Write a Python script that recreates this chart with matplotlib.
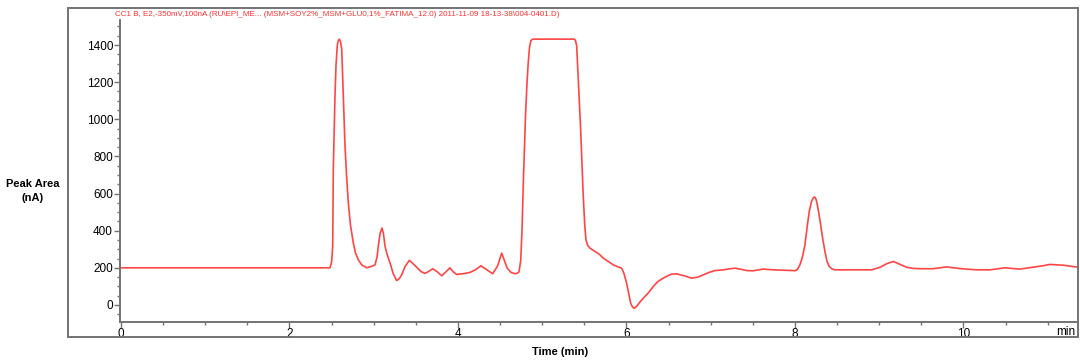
import matplotlib
matplotlib.use("Agg")
import matplotlib.pyplot as plt
from matplotlib.patches import Rectangle
from matplotlib.ticker import MultipleLocator

plt.rcParams['font.family'] = ['Liberation Sans', 'DejaVu Sans']

# chromatogram trace (time in min, signal in nA)
time_min = [0.0, 2.48, 2.50, 2.513, 2.52, 2.54, 2.552, 2.567, 2.576, 2.591, 2.605, 2.62,
            2.639, 2.659, 2.677, 2.698, 2.724, 2.757, 2.783, 2.817, 2.857, 2.916, 2.976,
            3.015, 3.04, 3.054, 3.075, 3.098, 3.115, 3.134, 3.16, 3.193, 3.23, 3.272,
            3.30, 3.332, 3.37, 3.422, 3.46, 3.51, 3.56, 3.608, 3.65, 3.70, 3.75, 3.807,
            3.85, 3.905, 3.94, 3.985, 4.06, 4.142, 4.21, 4.273, 4.34, 4.412, 4.47, 4.519,
            4.55, 4.585, 4.63, 4.677, 4.70, 4.724, 4.745, 4.76, 4.775, 4.79, 4.803, 4.82,
            4.834, 4.85, 4.866, 4.89, 5.38, 5.395, 5.409, 5.428, 5.456, 5.487, 5.505,
            5.519, 5.54, 5.567, 5.62, 5.68, 5.725, 5.78, 5.843, 5.90, 5.943, 5.97, 6.002,
            6.03, 6.05, 6.07, 6.093, 6.12, 6.15, 6.199, 6.26, 6.318, 6.37, 6.418, 6.48,
            6.536, 6.60, 6.70, 6.774, 6.85, 6.912, 6.98, 7.05, 7.149, 7.22, 7.288, 7.36,
            7.427, 7.505, 7.624, 7.742, 7.86, 7.98, 8.0, 8.03, 8.059, 8.09, 8.119, 8.145,
            8.17, 8.195, 8.217, 8.234, 8.25, 8.265, 8.285, 8.305, 8.33, 8.356, 8.38,
            8.407, 8.44, 8.475, 8.91, 9.009, 9.09, 9.167, 9.25, 9.326, 9.40, 9.484, 9.641,
            9.72, 9.8, 9.88, 9.958, 10.157, 10.314, 10.40, 10.493, 10.67, 10.828, 10.93,
            11.027, 11.185, 11.363]
signal_na = [200, 200, 230, 316, 730, 1126, 1290, 1396, 1420, 1432, 1420, 1378,
             1126, 856, 700, 551, 430, 335, 280, 243, 216, 200, 208,
             216, 260, 316, 385, 414, 385, 316, 270, 227, 170, 131,
             140, 162, 205, 240, 225, 203, 180, 170, 180, 195, 180, 157,
             175, 200, 180, 164, 168, 175, 190, 211, 190, 168, 210, 279,
             240, 198, 175, 168, 170, 178, 240, 400, 650, 860, 1036, 1200,
             1306, 1390, 1425, 1432, 1432, 1425, 1396, 1216, 946, 586, 430,
             351, 320, 306, 290, 272, 252, 235, 216, 205, 198, 170, 117,
             55, 9, -10, -18, -8, 10, 36, 65, 99, 125, 139, 155,
             166, 167, 155, 144, 150, 162, 175, 185, 189, 194, 198, 192,
             185, 184, 193, 189, 187, 185, 184, 192, 216, 260, 324, 420,
             504, 555, 577, 582, 570, 541, 490, 432, 355, 288, 235,
             207, 194, 189, 189, 203, 222, 234, 218, 203, 197, 195, 195,
             200, 205, 200, 196, 189, 189, 194, 200, 193, 203, 210,
             218, 214, 203]

title = ("CC1 B, E2,-350mV,100nA (RU\\EPI_ME... (MSM+SOY2%_MSM+GLU0,1%_FATIMA_12.0) "
         "2011-11-09 18-13-38\\004-0401.D)")

W, H = 1080, 363
fig = plt.figure(figsize=(W / 100, H / 100), dpi=100)
ax = fig.add_axes([120 / W, 1 - 322 / H, (1078 - 120) / W, (322 - 20) / H])

gray = '#737373'
ax.plot(time_min, signal_na, color='#ff4545', lw=1.2)

ax.set_xlim(-0.012, 11.36)
ax.set_ylim(-92, 1535)
ax.xaxis.set_major_locator(MultipleLocator(2))
ax.xaxis.set_minor_locator(MultipleLocator(0.5))
ax.yaxis.set_major_locator(MultipleLocator(200))
ax.yaxis.set_minor_locator(MultipleLocator(50))

for s in ['top', 'right']:
    ax.spines[s].set_visible(False)
for s in ['left', 'bottom']:
    ax.spines[s].set_color(gray)
    ax.spines[s].set_linewidth(1.4)

ax.tick_params(which='major', direction='out', length=4, width=1, color=gray,
               labelsize=8.5, pad=1)
ax.tick_params(which='minor', direction='out', length=2.5, width=1, color=gray)
ax.tick_params(axis='x', which='major', pad=0.5)

# outer frame of the report
fig.patches.append(Rectangle((68 / W, 1 - 337 / H), (1078 - 68) / W, (337 - 8) / H,
                             transform=fig.transFigure, fill=False, ec=gray, lw=1.4))

fig.text(115 / W, 1 - 15 / H, title, color='#ff3030', fontsize=5.8, va='center', ha='left')
fig.text(33 / W, 1 - 191 / H, 'Peak Area\n(nA)', fontsize=8, fontweight='bold',
         ha='center', va='center', linespacing=1.6)
fig.text(560 / W, 1 - 352 / H, 'Time (min)', fontsize=8, fontweight='bold',
         ha='center', va='center')
fig.text(1075 / W, 1 - 332 / H, 'min', fontsize=8.5, ha='right', va='center')

fig.savefig('out.png', dpi=100)
